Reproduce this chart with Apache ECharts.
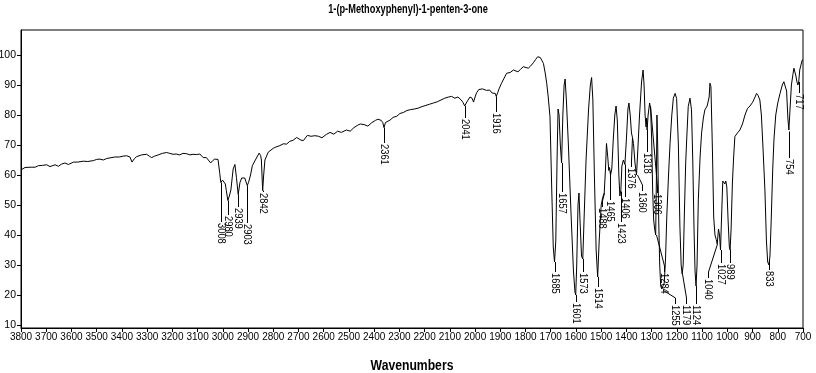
<!DOCTYPE html>
<html><head><meta charset="utf-8">
<script src="https://cdn.jsdelivr.net/npm/echarts@6/dist/echarts.min.js"></script>
<style>html,body{margin:0;padding:0;background:#fff}#c{width:816px;height:373px}</style>
</head><body><div id="c"></div>
<script>
const chartTitle = '1-(p-Methoxyphenyl)-1-penten-3-one';
const xAxisName = 'Wavenumbers';
const yTickValues = [10,20,30,40,50,60,70,80,90,100];

const wavenumbers = [
3800,3784,3760,3744,3738,3731,3715,3698,3685,3665,3652,3640,3626,3612,3592,3575,3553,3535,3513,3500,
3487,3474,3460,3447,3428,3410,3395,3381,3368,3360,3350,3342,3322,3302,3290,3282,3270,3256,3240,3223,
3210,3197,3185,3171,3158,3144,3130,3118,3105,3091,3078,3065,3058,3048,3040,3032,3025,3019,3012,3008,
3001,2995,2990,2986,2980,2974,2968,2959,2952,2946,2939,2932,2925,2913,2906,2903,2898,2890,2883,2869,
2856,2850,2847,2842,2838,2833,2820,2800,2790,2774,2760,2747,2735,2721,2707,2700,2690,2680,2665,2650,
2635,2620,2607,2590,2575,2560,2545,2530,2510,2495,2480,2465,2455,2440,2425,2410,2395,2385,2372,2366,
2361,2355,2350,2337,2325,2310,2298,2285,2270,2255,2240,2225,2210,2195,2180,2165,2150,2135,2120,2105,
2093,2080,2068,2055,2048,2041,2035,2030,2020,2012,2006,2000,1994,1985,1970,1955,1942,1932,1925,1920,
1916,1910,1905,1895,1875,1860,1848,1830,1820,1809,1789,1780,1769,1760,1752,1747,1742,1736,1729,1722,
1716,1710,1703,1696,1690,1685,1680,1675,1671,1667,1662,1657,1652,1647,1643,1638,1630,1620,1610,1604,
1601,1597,1592,1588,1584,1578,1573,1568,1560,1550,1543,1538,1533,1527,1520,1514,1508,1500,1494,1488,
1483,1479,1474,1470,1467,1463,1458,1452,1446,1441,1436,1430,1426,1422,1418,1412,1406,1400,1394,1390,
1385,1380,1376,1372,1366,1360,1355,1348,1340,1334,1330,1326,1322,1320,1318,1314,1308,1304,1300,1296,
1292,1288,1284,1281,1279,1276,1272,1268,1264,1260,1255,1250,1245,1240,1233,1227,1220,1214,1207,1201,
1194,1188,1183,1179,1175,1170,1165,1161,1155,1148,1142,1137,1132,1128,1124,1120,1115,1108,1102,1095,
1089,1080,1076,1072,1069,1065,1059,1054,1049,1044,1040,1035,1031,1027,1022,1018,1014,1010,1006,1002,
997,992,989,985,980,975,970,960,950,940,930,920,910,900,890,884,878,871,865,858,
851,845,840,835,831,826,820,815,808,800,791,782,776,770,765,760,756,754,750,746,
740,736,732,728,724,720,717,713,708,703,700
];
const transmittance = [
61.7,62.5,62.6,62.6,62.1,63.1,63.2,63.4,62.8,63.4,62.9,63.6,64.0,63.5,64.3,64.3,64.6,64.5,64.8,65.2,
65.3,65.0,65.5,65.7,66.0,66.0,66.3,66.4,66.0,64.3,65.5,66.1,66.7,66.9,66.2,65.8,66.3,66.7,67.2,67.5,
67.2,66.9,67.0,66.7,67.2,67.1,66.7,66.9,66.8,67.0,65.8,65.8,65.6,64.0,64.8,65.3,65.8,65.2,60.5,57.5,
58.3,58.8,57.0,54.8,51.5,53.0,55.0,62.0,63.5,59.2,53.5,57.5,59.0,59.0,58.6,56.5,57.5,60.0,63.1,65.3,
67.3,66.5,65.0,54.8,60.0,65.0,67.6,68.9,69.3,69.8,70.4,70.3,71.2,71.6,72.5,72.3,71.6,71.5,73.2,72.9,
73.1,72.9,72.4,73.5,74.2,73.6,74.6,74.2,75.0,74.6,75.8,76.6,77.0,76.8,76.3,77.4,78.2,78.6,78.2,77.5,
75.8,77.5,78.0,78.3,79.2,79.6,80.5,80.8,81.5,81.8,82.0,82.3,82.8,83.2,83.6,84.0,84.4,85.0,85.6,86.0,
86.2,85.6,86.0,85.0,84.2,83.0,84.0,84.7,86.0,85.6,84.3,86.0,87.4,88.5,88.7,88.2,88.3,87.3,87.8,87.2,
86.2,87.5,88.7,90.6,93.9,94.2,95.0,94.4,95.2,96.1,95.6,96.3,97.4,98.5,99.4,99.7,99.2,98.3,97.2,94.0,
90.6,86.0,79.4,55.0,36.0,31.0,38.0,65.0,82.0,80.0,70.0,64.0,80.0,90.0,92.0,85.0,70.0,48.0,28.0,21.0,
20.0,30.0,50.0,54.0,45.0,33.0,32.0,45.0,65.0,82.0,90.0,92.5,85.0,60.0,35.0,26.0,38.0,50.0,52.5,54.0,
62.0,70.5,66.0,61.5,62.5,60.0,62.0,72.0,80.0,83.0,78.0,60.0,53.0,55.0,63.0,65.0,63.5,72.0,82.0,84.0,
80.0,74.0,72.5,70.5,64.0,60.0,68.0,80.0,91.0,95.0,90.0,80.0,76.0,79.0,75.0,80.0,84.0,82.0,72.0,55.0,
45.0,42.0,40.0,60.0,80.0,70.0,45.0,30.0,23.0,22.0,21.5,24.0,32.0,46.0,60.0,70.6,80.0,85.6,87.2,85.5,
70.0,43.0,30.0,27.0,30.0,48.0,64.0,72.0,82.8,85.6,81.7,65.0,42.0,28.0,23.0,30.0,51.7,66.0,74.0,79.0,
81.7,83.0,83.3,86.0,90.6,89.5,68.0,46.0,40.0,38.5,37.0,42.0,40.0,35.0,48.0,58.0,58.5,57.0,58.0,56.0,
45.0,36.0,35.0,42.0,57.0,66.0,72.8,74.0,75.0,77.0,80.0,82.2,83.0,84.2,86.0,87.2,86.5,85.0,80.0,68.0,
55.0,38.0,31.0,30.0,33.0,45.0,62.0,72.0,80.0,84.0,87.2,90.0,91.1,91.5,88.0,79.0,75.0,74.5,84.0,90.0,
93.5,95.6,95.0,93.0,91.0,90.0,91.0,95.0,96.7,98.3,98.5
];

const peakWavenumbers = [3008,2980,2939,2903,2842,2361,2041,1916,1685,1657,1601,1573,1514,1488,1465,1423,1406,1376,1360,1318,1306,1284,1255,1179,1124,1040,1027,989,833,754,717];
const peakLabels = peakWavenumbers.map(String);

// label layout (anchor of each label: x in wavenumbers, top in %T)
const labelAnchorWn = [3008,2980,2939,2903,2842,2361,2041,1916,1685,1657,1601,1573,1514,1497,1465,1423,1406,1381,1339,1318,1280,1250,1207,1165,1124,1078,1027,989,833,754,717];
const labelTopT = [44.4,46.7,49.4,44,54.4,70.8,78.9,81.1,27.8,54.4,17.5,27.8,22.6,49.4,51.7,44.4,52.8,62.5,54.7,67.8,53.9,27.8,17,17,17,25.5,30.6,30.6,28.3,65.6,87.2];

const FONT = "'Liberation Sans',Arial,sans-serif";

function curveAt(w) {
  for (let i = 0; i < wavenumbers.length - 1; i++) {
    const a = wavenumbers[i], b = wavenumbers[i + 1];
    if (w <= a && w >= b) {
      const t = (a - w) / (a - b);
      return transmittance[i] + t * (transmittance[i + 1] - transmittance[i]);
    }
  }
  return transmittance[transmittance.length - 1];
}

const spectrum = wavenumbers.map((w, i) => [w, transmittance[i]]);
const peakData = peakWavenumbers.map((w, i) => [w, curveAt(w), labelAnchorWn[i], labelTopT[i]]);

const chart = echarts.init(document.getElementById('c'), null, {renderer: 'canvas'});
chart.setOption({
  animation: false,
  backgroundColor: '#fff',
  graphic: [
    {type: 'text', x: 408, y: 4, scaleX: 0.77, silent: true,
     style: {text: chartTitle, align: 'center', verticalAlign: 'top', fontSize: 12, fontWeight: 'bold', fontFamily: FONT, fill: '#000'}},
    {type: 'text', x: 412, y: 359, scaleX: 0.87, silent: true,
     style: {text: xAxisName, align: 'center', verticalAlign: 'top', fontSize: 14, fontWeight: 'bold', fontFamily: FONT, fill: '#000'}}
  ],
  grid: {left: 21, right: 13, top: 30, bottom: 45, show: true, borderColor: '#000', borderWidth: 1,
         backgroundColor: 'transparent', containLabel: false, outerBoundsMode: 'none'},
  xAxis: {
    type: 'value', inverse: true, min: 700, max: 3800, interval: 100,
    axisLine: {show: true, lineStyle: {color: '#000', width: 1}},
    axisTick: {show: true, length: 4, lineStyle: {color: '#000'}},
    axisLabel: {fontSize: 10, fontFamily: FONT, color: '#000', margin: 4,
                showMinLabel: true, showMaxLabel: true, hideOverlap: false,
                formatter: function (v) { return String(v); }},
    splitLine: {show: false}
  },
  yAxis: {
    type: 'value', min: 9, max: 108.33,
    axisLine: {show: true, lineStyle: {color: '#000', width: 1}},
    axisTick: {show: true, length: 4, customValues: yTickValues, lineStyle: {color: '#000'}},
    axisLabel: {customValues: yTickValues, fontSize: 10.5, fontFamily: FONT, color: '#000', margin: 5},
    splitLine: {show: false}
  },
  series: [
    {
      type: 'line', data: spectrum, showSymbol: false, symbol: 'none', silent: true,
      lineStyle: {color: '#000', width: 1}
    },
    {
      type: 'custom', data: peakData, silent: true, clip: false, z: 5,
      encode: {x: 0, y: 1},
      renderItem: function (params, api) {
        const p = api.coord([api.value(0), api.value(1)]);
        const l = api.coord([api.value(2), api.value(3)]);
        const px = Math.round(p[0]) + 0.5, lx = Math.round(l[0]) + 0.5;
        const ly = Math.round(l[1]);
        let pts;
        if (Math.abs(px - lx) < 1) pts = [[px, p[1]], [px, ly]];
        else pts = [[px, p[1]], [lx, ly - 6], [lx, ly]];
        return {
          type: 'group',
          children: [
            {type: 'polyline', shape: {points: pts}, style: {stroke: '#000', lineWidth: 1, fill: null}},
            {type: 'text', x: lx, y: ly + 1, rotation: -Math.PI / 2, scaleX: 0.85,
             style: {text: peakLabels[params.dataIndex], fontSize: 11, fontFamily: FONT, fill: '#000', align: 'left', verticalAlign: 'middle'}}
          ]
        };
      }
    }
  ]
});
</script></body></html>
